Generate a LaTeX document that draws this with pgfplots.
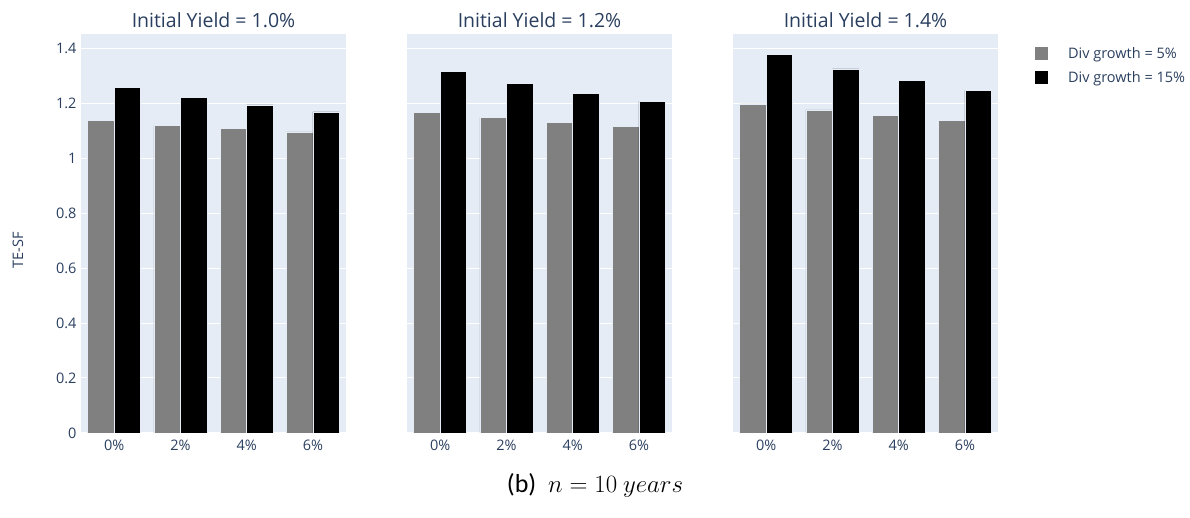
\documentclass[border=0pt]{standalone}
\usepackage{fontspec}
\setmainfont{Open Sans}
\newfontfamily\capfont{Carlito}
\usepackage{pgfplots}
\pgfplotsset{compat=1.18}
\definecolor{txt}{RGB}{42,63,95}
\definecolor{bgc}{RGB}{229,236,246}
\definecolor{gbar}{RGB}{128,128,128}
\pgfplotsset{
  panel/.style={
    at={(#1,85pt)}, anchor=south west,
    scale only axis, width=265pt, height=399pt,
    xmin=-0.5, xmax=3.5, ymin=0, ymax=1.451,
    xtick={0,1,2,3}, xticklabels={0\%,2\%,4\%,6\%},
    ytick={0,0.2,0.4,0.6,0.8,1,1.2,1.4},
    axis line style={draw=none},
    major tick length=0pt,
    ymajorgrids, grid style={white, line width=1pt},
    axis background/.style={fill=bgc},
    tick label style={font=\fontsize{14.5}{17}\selectfont, text=txt},
    /pgf/number format/assume math mode=true,
    xticklabel style={yshift=-3pt},
    yticklabel style={xshift=-1pt},
    title style={font=\fontsize{19.5}{23}\selectfont, text=txt, yshift=-3pt},
    ybar, bar width=0.4,
  },
}
\begin{document}
\begin{tikzpicture}[x=1pt,y=1pt]
\path[use as bounding box] (0,0) rectangle (1190,518);
\begin{axis}[panel=81pt, title={Initial Yield = 1.0\%}]
\addplot[fill=gbar, draw=bgc, line width=0.4pt, bar shift=-0.2] coordinates {(0,1.136) (1,1.120) (2,1.107) (3,1.095)};
\addplot[fill=black, draw=bgc, line width=0.4pt, bar shift=0.2] coordinates {(0,1.256) (1,1.221) (2,1.193) (3,1.168)};
\end{axis}
\begin{axis}[panel=407pt, title={Initial Yield = 1.2\%}, yticklabels={}]
\addplot[fill=gbar, draw=bgc, line width=0.4pt, bar shift=-0.2] coordinates {(0,1.166) (1,1.148) (2,1.130) (3,1.116)};
\addplot[fill=black, draw=bgc, line width=0.4pt, bar shift=0.2] coordinates {(0,1.315) (1,1.272) (2,1.236) (3,1.207)};
\end{axis}
\begin{axis}[panel=733pt, title={Initial Yield = 1.4\%}, yticklabels={},
  legend cell align=left,
  legend style={at={(1.128,0.976)}, anchor=north west, draw=none, fill=none,
    font=\fontsize{14.5}{17}\selectfont, text=txt, row sep=7pt,
    /tikz/every odd column/.append style={column sep=18pt}},
  legend image code/.code={\fill[#1,draw=none] (0pt,-6pt) rectangle (13pt,7pt);}]
\addplot[fill=gbar, draw=bgc, line width=0.4pt, bar shift=-0.2] coordinates {(0,1.197) (1,1.175) (2,1.154) (3,1.137)};
\addplot[fill=black, draw=bgc, line width=0.4pt, bar shift=0.2] coordinates {(0,1.377) (1,1.324) (2,1.282) (3,1.246)};
\legend{Div growth = 5\%, Div growth = 15\%}
\end{axis}
\node[rotate=90, text=txt, font=\fontsize{14.5}{17}\selectfont] at (18,268) {TE-SF};
\node[font=\capfont\fontsize{26}{30}\selectfont] at (595,33) {(b)\ \ $n = 10\ years$};
\end{tikzpicture}
\end{document}
